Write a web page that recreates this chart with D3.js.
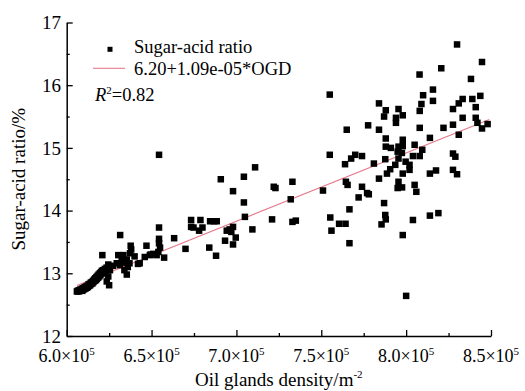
<!DOCTYPE html>
<html><head><meta charset="utf-8">
<script src="https://cdn.jsdelivr.net/npm/d3@7"></script>
<style>body{margin:0;background:#fff}svg{display:block}text{font-family:"Liberation Serif","Times New Roman",serif;fill:#000}</style>
</head><body><svg id="c" width="525" height="391"></svg>
<script>
// Oil glands density (in units of 1e5 per m^2) and sugar-acid ratio (%)
const density = [
8.30,8.447,8.207,8.079,8.382,7.55,8.158,8.10,8.158,8.437,8.39,8.333,8.31,8.276,8.41,8.09,8.08,7.84,7.88,7.955,
7.98,7.87,7.94,7.94,7.776,7.65,7.84,8.08,8.22,8.276,8.333,8.41,8.42,8.447,8.48,8.31,8.14,7.88,7.98,7.88,
7.91,7.955,7.98,8.05,8.095,7.95,7.975,7.55,7.676,7.70,7.74,8.04,8.08,7.955,7.877,7.997,7.81,7.64,7.936,8.02,
8.276,8.29,7.906,8.02,7.887,7.84,7.98,8.14,8.176,8.276,8.30,7.645,7.655,7.955,7.976,8.05,8.06,7.95,7.74,7.77,
7.22,7.33,7.51,7.72,7.32,
7.87,7.666,7.21,7.33,7.35,7.553,7.56,7.605,7.643,7.666,7.877,7.88,7.855,8.04,7.98,8.14,8.19,8.00,7.23,7.78,
6.544,6.908,7.11,7.044,6.98,7.044,7.05,7.094,6.733,6.733,6.747,6.788,6.80,6.78,6.845,6.868,6.884,6.943,6.96,6.98,
6.97,6.996,6.933,6.98,6.84,6.88,6.70,6.633,6.544,6.544,6.544,6.55,6.54,6.53,6.51,6.574,6.47,6.43,
6.304,6.334,6.373,6.354,6.324,6.295,6.37,6.314,6.344,6.273,6.42,6.46,6.49,6.495,6.21,6.377,6.315,6.354,6.34,6.245,
6.25,6.255,6.245,6.236,6.38,6.40,6.36,
6.060,6.065,6.070,6.072,6.078,6.080,6.085,6.088,6.092,6.095,6.098,6.102,6.105,6.108,6.112,6.115,6.118,6.122,6.125,6.128,
6.132,6.135,6.138,6.142,6.145,6.148,6.152,6.155,6.158,6.162,6.165,6.168,6.172,6.175,6.178,6.182,6.185,6.188,6.192,6.195,
6.198,6.202,6.205,6.208,6.212,6.215,6.220,6.225,6.230,6.235,6.240,6.245,6.250
];
const ratio = [
16.65,16.37,16.27,16.17,16.10,15.85,15.93,15.84,15.75,15.83,15.78,15.78,15.71,15.62,15.65,15.70,15.59,15.71,15.60,15.62,
15.52,15.50,15.48,15.40,15.36,15.29,15.29,15.32,15.32,15.37,15.48,15.48,15.40,15.31,15.38,15.21,15.16,15.15,15.13,15.02,
15.00,15.02,15.03,15.05,14.97,14.94,14.92,14.89,14.83,14.89,14.87,14.87,14.87,14.83,14.82,14.78,14.75,14.74,14.73,14.73,
14.91,14.86,14.66,14.65,14.59,14.51,14.59,14.59,14.64,14.65,14.58,14.46,14.41,14.46,14.37,14.41,14.30,14.36,14.38,14.28,
14.38,14.46,14.32,14.21,14.18,
14.12,14.02,13.86,13.82,13.84,13.89,13.68,13.79,13.79,13.48,13.93,13.86,13.78,13.85,13.61,13.92,13.96,12.64,14.36,14.26,
14.89,14.50,14.69,14.54,14.31,14.13,13.90,13.70,13.85,13.74,13.73,13.85,13.73,13.68,13.83,13.83,13.83,13.68,13.70,13.74,
13.66,13.57,13.52,13.46,13.41,13.28,13.39,13.56,13.73,13.55,13.48,13.41,13.34,13.29,13.31,13.25,13.44,13.16,
13.29,13.29,13.32,13.22,13.20,13.16,13.16,13.13,13.17,13.12,13.15,13.26,13.29,13.30,13.29,13.44,13.61,12.98,13.05,13.14,
12.81,13.05,12.95,12.87,13.38,13.27,13.10,
12.71,12.72,12.71,12.73,12.72,12.74,12.73,12.75,12.72,12.76,12.74,12.77,12.75,12.78,12.76,12.79,12.77,12.80,12.78,12.82,
12.80,12.83,12.81,12.85,12.83,12.86,12.84,12.88,12.86,12.90,12.88,12.92,12.89,12.94,12.91,12.96,12.93,12.98,12.95,13.00,
12.97,13.02,12.99,13.04,13.01,13.05,13.03,13.07,13.05,13.09,13.06,13.10,13.08
];
const xMajorTicks = [6.0, 6.5, 7.0, 7.5, 8.0, 8.5];
const xMajorLabels = ["6.0", "6.5", "7.0", "7.5", "8.0", "8.5"];
const xMinorTicks = [6.25, 6.75, 7.25, 7.75, 8.25];
const yMajorTicks = [12, 13, 14, 15, 16, 17];
const yMinorTicks = [12.5, 13.5, 14.5, 15.5, 16.5];
const fitIntercept = 6.20, fitSlope = 1.09e-05, fitR2 = 0.82;
const fitRange = [6.06, 8.49];

const svg = d3.select("#c");
const x = d3.scaleLinear().domain([6.0, 8.5]).range([66.7, 491]);
const y = d3.scaleLinear().domain([12, 17]).range([336, 22.5]);

// regression line
const fitPts = fitRange.map(v => [v, fitIntercept + fitSlope * v * 1e5]);
svg.append("path").datum(fitPts)
  .attr("d", d3.line().x(d => x(d[0])).y(d => y(d[1])))
  .attr("fill", "none").attr("stroke", "#e5788a").attr("stroke-width", 1.1);

// points
const s = 6.5;
svg.append("g").selectAll("rect").data(density.map((d, i) => [d, ratio[i]])).join("rect")
  .attr("x", d => x(d[0]) - s / 2).attr("y", d => y(d[1]) - s / 2)
  .attr("width", s).attr("height", s).attr("fill", "#000");

// axes
const gx = svg.append("g").attr("transform", "translate(0,336)");
gx.call(d3.axisBottom(x).tickValues(xMajorTicks).tickSizeInner(-6).tickSizeOuter(0).tickFormat(""));
gx.append("g").call(d3.axisBottom(x).tickValues(xMinorTicks).tickSizeInner(-3).tickSizeOuter(0).tickFormat(""))
  .select(".domain").remove();
const gy = svg.append("g").attr("transform", "translate(66.7,0)");
gy.call(d3.axisLeft(y).tickValues(yMajorTicks).tickSizeInner(-6).tickSizeOuter(0).tickFormat(""));
gy.append("g").call(d3.axisLeft(y).tickValues(yMinorTicks).tickSizeInner(-3).tickSizeOuter(0).tickFormat(""))
  .select(".domain").remove();
svg.selectAll(".domain").attr("stroke", "#000").attr("stroke-width", 1.5);
svg.selectAll(".tick line").attr("stroke", "#000").attr("stroke-width", 1.3);

// tick labels
yMajorTicks.forEach(v => {
  svg.append("text").attr("x", 61).attr("y", y(v)).attr("dy", "0.35em")
    .attr("text-anchor", "end").style("font-size", "19px").text(v);
});
xMajorTicks.forEach((v, i) => {
  const t = svg.append("text").attr("x", x(v)).attr("y", 362)
    .attr("text-anchor", "middle").style("font-size", "18px");
  t.append("tspan").text(xMajorLabels[i] + "×10");
  t.append("tspan").attr("dy", -7).style("font-size", "11px").text("5");
});

// axis titles
const xt = svg.append("text").attr("x", x(7.25)).attr("y", 386)
  .attr("text-anchor", "middle").style("font-size", "19px");
xt.append("tspan").text("Oil glands density/m");
xt.append("tspan").attr("dy", -8).style("font-size", "11px").text("-2");
svg.append("text").attr("transform", `translate(25,${y(14.5)}) rotate(-90)`)
  .attr("text-anchor", "middle").style("font-size", "19px").text("Sugar-acid ratio/%");

// legend
svg.append("rect").attr("x", 107.5).attr("y", 46.8).attr("width", 5).attr("height", 5).attr("fill", "#000");
svg.append("text").attr("x", 134).attr("y", 52.5).style("font-size", "18.5px").text("Sugar-acid ratio");
svg.append("line").attr("x1", 93).attr("x2", 125).attr("y1", 68.3).attr("y2", 68.3)
  .attr("stroke", "#e5788a").attr("stroke-width", 1.1);
svg.append("text").attr("x", 134).attr("y", 75).style("font-size", "18.5px")
  .text(fitIntercept.toFixed(2) + "+" + fitSlope.toExponential(2).replace("e-5", "e-05") + "*OGD");
const r2 = svg.append("text").attr("x", 95).attr("y", 100.5).style("font-size", "18.5px");
r2.append("tspan").style("font-style", "italic").text("R");
r2.append("tspan").attr("dy", -7).style("font-size", "11px").text("2");
r2.append("tspan").attr("dy", 7).text("=" + fitR2.toFixed(2));
</script></body></html>
